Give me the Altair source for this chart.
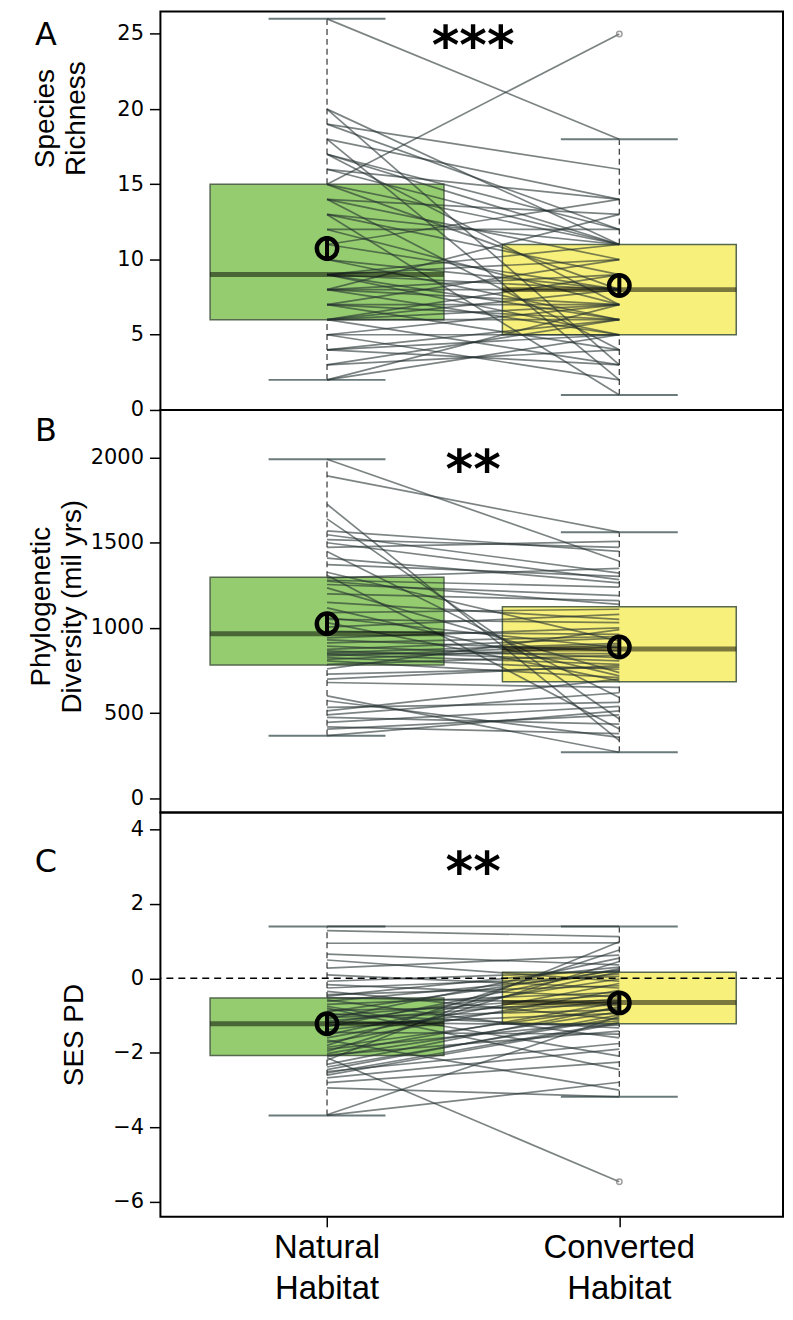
import altair as alt
import pandas as pd

# ---------------- data ----------------
POS = [1, 2]
GROUP = ["Natural", "Converted"]
XLABELS = ["Natural\nHabitat", "Converted\nHabitat"]

# Panel A: species richness (paired sites)
nat_A = [26, 20, 20, 19, 19, 18, 18, 17, 17, 17, 16, 16, 15, 15, 15, 14, 14, 14, 13, 13,
         13, 12, 12, 11, 11, 10, 10, 9, 9, 9, 9, 9, 8, 8, 8, 8, 8, 7, 7, 7,
         7, 6, 6, 6, 6, 6, 5, 5, 5, 4, 4, 4, 3, 3, 2, 2]
conv_A = [18, 11, 3, 16, 12, 14, 2, 12, 11, 7, 11, 14, 25, 11, 8, 13, 10, 4, 11, 9,
          1, 12, 7, 14, 8, 8, 6, 11, 10, 8, 6, 5, 13, 9, 8, 7, 5, 10, 7, 6,
          4, 9, 8, 7, 6, 3, 7, 5, 2, 6, 5, 3, 6, 4, 7, 5]
A_lo, A_q1, A_med, A_q3, A_hi = [2, 1], [6, 5], [9, 8], [15, 11], [26, 18]
A_mean, A_se = [10.73, 8.27], [0.83, 0.72]
A_out = [25]

# Panel B: phylogenetic diversity (mil yrs)
nat_B = [1990, 1892, 1726, 1640, 1570, 1547, 1518, 1500, 1473, 1449, 1410, 1372, 1327, 1310,
         1293, 1280, 1274, 1255, 1235, 1200, 1150, 1118, 1090, 1060, 1050, 1031, 1005, 980,
         942, 930, 913, 894, 875, 866, 855, 850, 845, 836, 826, 815, 807, 787,
         760, 729, 700, 680, 602, 573, 534, 514, 490, 475, 446, 420, 407, 368]
conv_B = [1391, 1562, 339, 466, 1449, 1322, 1473, 1284, 1508, 592, 1265, 1303, 923, 407,
          1350, 1240, 1138, 1190, 738, 1160, 1050, 719, 1110, 884, 1031, 690, 1080, 962,
          1001, 865, 950, 826, 940, 807, 910, 850, 787, 900, 758, 890, 709, 840,
          990, 770, 780, 651, 271, 358, 563, 700, 620, 436, 540, 380, 490, 514]
B_lo, B_q1, B_med, B_q3, B_hi = [368, 271], [783, 684], [966, 876], [1298, 1124], [1990, 1562]
B_mean, B_se = [1025, 888], [61, 58]
B_out = []

# Panel C: SES PD
nat_C = [1.39, 1.28, 0.94, 0.65, 0.49, 0.27, 0.09, -0.08, -0.17, -0.26, -0.35, -0.44, -0.48, -0.52,
         -0.58, -0.62, -0.70, -0.75, -0.80, -0.86, -0.90, -0.95, -1.00, -1.05, -1.10, -1.14, -1.18, -1.21,
         -1.25, -1.30, -1.38, -1.45, -1.52, -1.60, -1.66, -1.72, -1.80, -1.85, -1.90, -1.96, -2.02, -2.06,
         -2.10, -2.13, -2.20, -2.31, -2.38, -2.45, -2.50, -2.54, -2.60, -2.67, -2.80, -2.94, -3.66, -3.68]
conv_C = [1.39, 1.12, 0.95, 0.36, -0.08, 0.62, -0.26, 0.19, -0.50, 0.05, -1.10, -0.20, 0.30, -0.67,
          -1.60, 0.12, -0.38, -2.09, -2.45, -0.72, 0.22, -1.33, -0.44, -0.85, 0.54, -0.55, -1.26, -0.02,
          -0.94, 0.26, -0.60, -1.50, 0.17, -0.14, -3.00, -0.32, 0.76, -0.80, -1.14, 0.45, -0.64, -1.42,
          -0.90, -5.46, 0.98, -0.76, -1.06, -0.98, -1.75, -1.18, -1.21, -1.90, -2.25, -3.18, -1.02, -2.79]
C_lo, C_q1, C_med, C_q3, C_hi = [-3.68, -3.18], [-2.07, -1.22], [-1.22, -0.65], [-0.53, 0.16], [1.39, 1.39]
C_mean, C_se = [-1.22, -0.66], [0.29, 0.29]
C_out = [-5.46]

# ---------------- styling ----------------
W = 625
BOXW = 0.4
CAPW = 0.2
FILLS = ["#94cc6f", "#f7f07a"]
LINEC = "#243030"
XDOM = [0.43, 2.56]


def panel(nat, conv, lo, q1, med, q3, hi, mean, se, outs, ydom, yticks, height,
          title, title_x, title_y, stars, star_y, letter, letter_y, zero=False, bottom=False):
    n = len(nat)
    pairs = pd.DataFrame({"id": list(range(n)) * 2, "x": [1] * n + [2] * n, "v": nat + conv})
    stats = pd.DataFrame({"x": POS, "g": GROUP, "lo": lo, "q1": q1, "med": med,
                          "q3": q3, "hi": hi, "mean": mean, "se": se})
    if bottom:
        xaxis = alt.Axis(values=POS, labels=False, domain=False, ticks=True, tickSize=10,
                         tickWidth=1.5, tickColor="black", grid=False, title=None)
    else:
        xaxis = None
    yaxis = alt.Axis(values=yticks, grid=False, domain=False, tickSize=11, tickWidth=1.5,
                     tickColor="black", labelFont="DejaVu Sans", labelFontSize=21,
                     labelColor="black", labelPadding=6, format="d",
                     title=title, titleFont="Liberation Sans", titleFontSize=28,
                     titleFontWeight="normal", titleColor="black", titleLineHeight=31,
                     titleX=title_x, titleY=title_y)
    xs = alt.Scale(domain=XDOM, nice=False, zero=False)
    ys = alt.Scale(domain=ydom, nice=False, zero=False)

    def X(f):
        return alt.X(f, type="quantitative", scale=xs, axis=xaxis)

    def Y(f):
        return alt.Y(f, type="quantitative", scale=ys, axis=yaxis)

    base = alt.Chart(stats).transform_calculate(
        xl=f"datum.x - {BOXW}", xr=f"datum.x + {BOXW}",
        cl=f"datum.x - {CAPW}", cr=f"datum.x + {CAPW}",
        mlo="datum.mean - datum.se", mhi="datum.mean + datum.se")

    whisk_up = base.mark_rule(color="#444", strokeDash=[6, 4], strokeWidth=1.3).encode(
        x=X("x"), y=Y("q3"), y2="hi")
    whisk_dn = base.mark_rule(color="#444", strokeDash=[6, 4], strokeWidth=1.3).encode(
        x=X("x"), y=Y("lo"), y2="q1")
    cap_hi = base.mark_rule(color="#6b7b7b", strokeWidth=2).encode(x=X("cl"), x2="cr", y=Y("hi"))
    cap_lo = base.mark_rule(color="#6b7b7b", strokeWidth=2).encode(x=X("cl"), x2="cr", y=Y("lo"))
    box = base.mark_rect(stroke="#56694f", strokeWidth=1.5).encode(
        x=X("xl"), x2="xr", y=Y("q1"), y2="q3",
        fill=alt.Fill("g:N", scale=alt.Scale(domain=GROUP, range=FILLS), legend=None))
    lines = alt.Chart(pairs).mark_line(color=LINEC, opacity=0.6, strokeWidth=1.7).encode(
        x=X("x"), y=Y("v"), detail="id:N")
    medl = base.mark_rule(color="black", opacity=0.5, strokeWidth=5).encode(
        x=X("xl"), x2="xr", y=Y("med"))
    ebar = base.mark_rule(color="black", strokeWidth=4).encode(x=X("x"), y=Y("mlo"), y2="mhi")
    mpt = base.mark_point(shape="circle", filled=False, color="black", strokeWidth=4.5,
                          size=420, opacity=1).encode(x=X("x"), y=Y("mean"))
    layers = [whisk_up, whisk_dn, cap_hi, cap_lo, box, lines, medl]
    if outs:
        od = pd.DataFrame({"x": [2] * len(outs), "v": outs})
        layers.append(alt.Chart(od).mark_point(shape="circle", filled=False, color="#777",
                                               strokeWidth=1.5, size=30).encode(x=X("x"), y=Y("v")))
    layers += [ebar, mpt]
    if zero:
        layers.append(alt.Chart(pd.DataFrame({"z": [0]})).mark_rule(
            color="black", strokeDash=[7, 5], strokeWidth=1.5).encode(y=Y("z")))
    sd = pd.DataFrame({"x": [1.5], "y": [star_y], "t": [stars]})
    layers.append(alt.Chart(sd).mark_text(font="DejaVu Sans", fontWeight="bold", fontSize=53,
                                          baseline="top", color="black").encode(
        x=X("x"), y=Y("y"), text="t:N"))
    ld = pd.DataFrame({"t": [letter]})
    layers.append(alt.Chart(ld).mark_text(font="DejaVu Sans", fontSize=32, align="center",
                                          baseline="middle", color="black").encode(
        x=alt.value(-115), y=alt.value(letter_y), text="t:N"))
    if bottom:
        xl = pd.DataFrame({"x": POS, "t": XLABELS})
        layers.append(alt.Chart(xl).mark_text(font="Liberation Sans", fontSize=33, lineBreak="\n",
                                              lineHeight=41, baseline="top", color="black").encode(
            x=X("x"), y=alt.value(height + 15), text="t:N"))
    return alt.layer(*layers).properties(width=W, height=height)


pA = panel(nat_A, conv_A, A_lo, A_q1, A_med, A_q3, A_hi, A_mean, A_se, A_out,
           [0, 26.49], [0, 5, 10, 15, 20, 25], 400, ["Species", "Richness"], -101, 107,
           "***", 25.8, "A", 24)
pB = panel(nat_B, conv_B, B_lo, B_q1, B_med, B_q3, B_hi, B_mean, B_se, B_out,
           [-82, 2279], [0, 500, 1000, 1500, 2000], 404,
           ["Phylogenetic", "Diversity (mil yrs)"], -105, 197, "**", 2065, "B", 21)
pC = panel(nat_C, conv_C, C_lo, C_q1, C_med, C_q3, C_hi, C_mean, C_se, C_out,
           [-6.40, 4.45], [-6, -4, -2, 0, 2, 4], 406, "SES PD", -72, 223,
           "**", 3.50, "C", 50, zero=True, bottom=True)

chart = alt.vconcat(pA, pB, pC, spacing=0, bounds="flush").properties(
    padding={"left": 19, "top": 0, "right": 0, "bottom": 0}
).configure_view(stroke="black", strokeWidth=2).configure_concat(spacing=0)

chart.save("out.html", embed_options={"renderer": "svg", "actions": False})
